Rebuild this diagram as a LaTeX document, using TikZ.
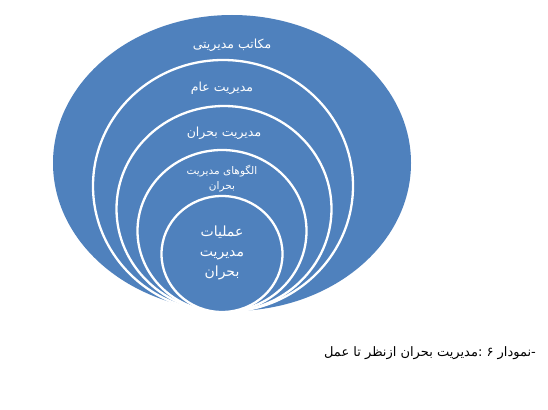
\documentclass[tikz,border=0pt]{standalone}
\usepackage{fontspec}
\newfontfamily\arabicfont[Script=Arabic]{DejaVu Sans}
\TeXXeTstate=1
\usetikzlibrary{shapes.geometric}
\definecolor{ringblue}{HTML}{4F81BD}
\tikzset{
  ring/.style={ellipse,inner sep=0pt,fill=ringblue,draw=white,line width=2.3pt},
  ringtext/.style={text=white,font=\arabicfont\fontsize{12.5}{15}\selectfont,align=center}
}
\begin{document}
\begin{tikzpicture}[x=1pt,y=-1pt]
\useasboundingbox[fill=white] (0,0) rectangle (548,409);
\node[ring,draw=none,minimum width=358pt,minimum height=296pt] (schools) at (232,163) {};
\node[ring,minimum width=260pt,minimum height=252pt] (general) at (223,186) {};
\node[ring,minimum width=215pt,minimum height=206pt] (crisis) at (224,209) {};
\node[ring,minimum width=169pt,minimum height=162pt] (models) at (222,231) {};
\node[ring,minimum width=121pt,minimum height=116pt] (ops) at (222,254) {};
\node[ringtext] (schoolslabel) at (232,45) {\beginR مکاتب مدیریتی\endR};
\node[ringtext] (generallabel) at (222,88) {\beginR مدیریت عام\endR};
\node[ringtext] (crisislabel) at (224,133) {\beginR مدیریت بحران\endR};
\node[ringtext,font=\arabicfont\fontsize{10.5}{15}\selectfont] (modelslabel) at (222,179) {\beginR الگوهای مدیریت\endR\\\beginR بحران\endR};
\node[ringtext,font=\arabicfont\fontsize{14}{20}\selectfont] (opslabel) at (222,253) {\beginR عملیات\endR\\\beginR مدیریت\endR\\\beginR بحران\endR};
\node[font=\arabicfont\fontsize{13}{15}\selectfont] (caption) at (430,353) {\beginR -نمودار ۶ :مدیریت بحران ازنظر تا عمل\endR};
\end{tikzpicture}
\end{document}
